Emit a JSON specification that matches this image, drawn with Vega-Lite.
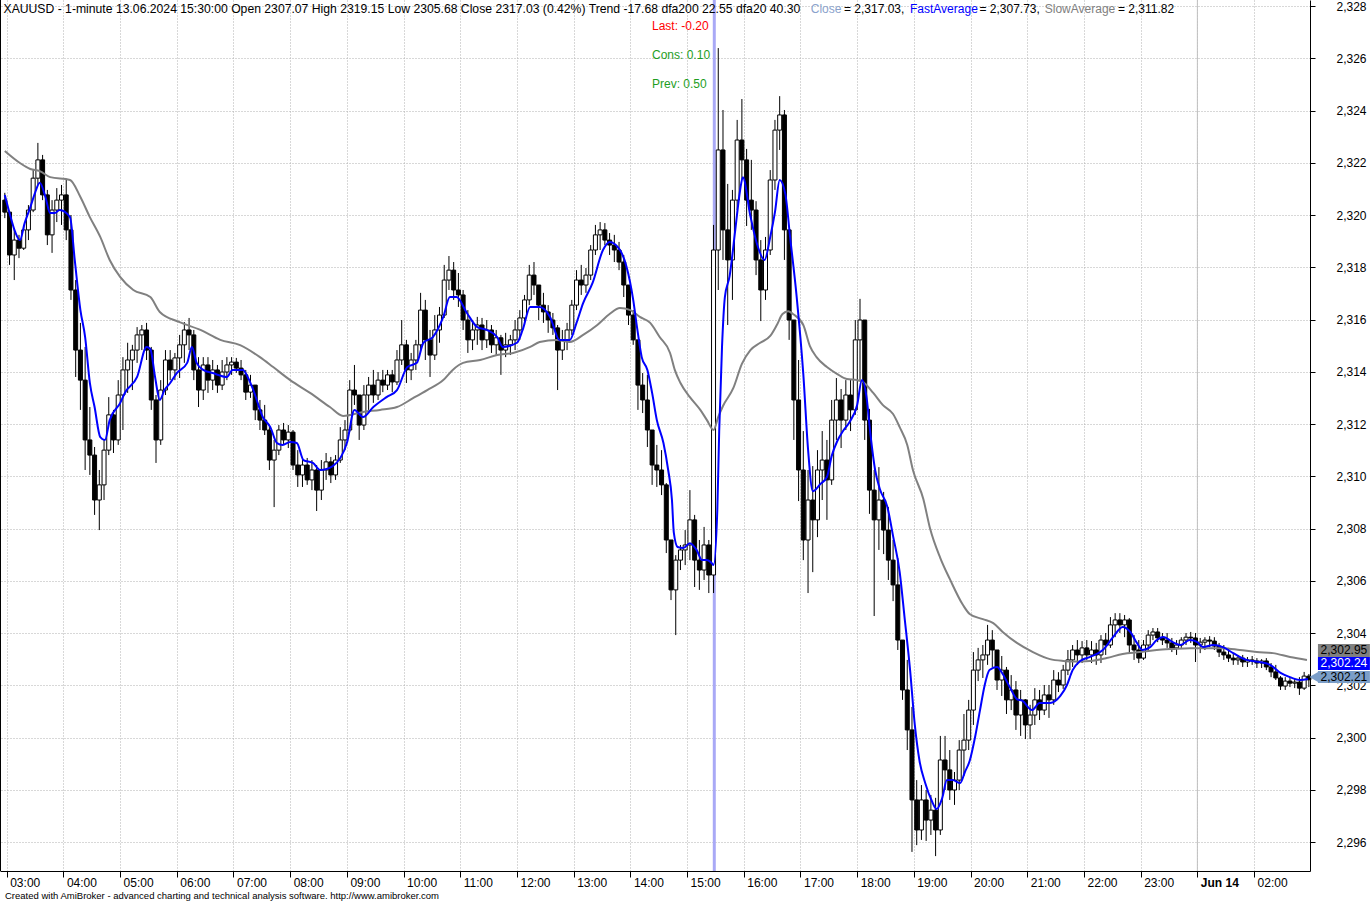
{
"$schema":"https://vega.github.io/schema/vega-lite/v6.json",
"width":1310,"height":871,
"autosize":{"type":"none"},
"padding":{"left":0,"top":0,"right":61,"bottom":32},
"background":"white",
"config":{"view":{"stroke":null},"font":"Liberation Sans",
"axisY":{"orient":"right","title":null,"grid":true,"gridColor":"#b0b0b0","gridDash":[1,2],"gridWidth":1,"domainColor":"#000000","domainWidth":1,"tickColor":"#000000","tickSize":5,"labelPadding":21,"labelFontSize":12,"labelFont":"Liberation Sans","labelColor":"#000000","labelAlign":"left","labelBaseline":"middle","labelBound":false,"labelOverlap":false}},
"datasets":{
"bars":[
{"m":-2,"o":2320.57,"h":2320.85,"l":2319.88,"c":2320.11},
{"m":3,"o":2320.11,"h":2320.00,"l":2318.09,"c":2318.47},
{"m":8,"o":2318.47,"h":2319.50,"l":2317.51,"c":2319.04},
{"m":13,"o":2319.04,"h":2319.24,"l":2318.35,"c":2318.73},
{"m":18,"o":2318.73,"h":2319.62,"l":2318.66,"c":2319.43},
{"m":23,"o":2319.43,"h":2320.38,"l":2319.04,"c":2320.19},
{"m":28,"o":2320.19,"h":2321.72,"l":2320.11,"c":2321.41},
{"m":33,"o":2321.41,"h":2322.76,"l":2321.15,"c":2322.11},
{"m":38,"o":2322.11,"h":2322.30,"l":2320.57,"c":2320.77},
{"m":43,"o":2320.77,"h":2320.96,"l":2318.85,"c":2319.24},
{"m":48,"o":2319.24,"h":2320.57,"l":2318.55,"c":2320.19},
{"m":53,"o":2320.19,"h":2321.03,"l":2319.73,"c":2320.57},
{"m":58,"o":2320.57,"h":2321.15,"l":2319.62,"c":2320.77},
{"m":63,"o":2320.77,"h":2321.34,"l":2319.04,"c":2319.43},
{"m":68,"o":2319.43,"h":2320.00,"l":2316.75,"c":2317.13},
{"m":73,"o":2317.13,"h":2317.51,"l":2313.80,"c":2314.83},
{"m":78,"o":2314.83,"h":2315.87,"l":2312.54,"c":2313.68},
{"m":83,"o":2313.68,"h":2314.95,"l":2310.24,"c":2311.39},
{"m":88,"o":2311.39,"h":2312.65,"l":2310.05,"c":2310.81},
{"m":93,"o":2310.81,"h":2311.12,"l":2308.52,"c":2309.09},
{"m":98,"o":2309.09,"h":2310.24,"l":2307.94,"c":2309.67},
{"m":103,"o":2309.67,"h":2311.39,"l":2309.09,"c":2311.00},
{"m":108,"o":2311.00,"h":2313.03,"l":2310.81,"c":2312.35},
{"m":113,"o":2312.35,"h":2312.54,"l":2310.89,"c":2311.39},
{"m":118,"o":2311.39,"h":2313.68,"l":2311.20,"c":2313.11},
{"m":123,"o":2313.11,"h":2314.56,"l":2311.77,"c":2314.07},
{"m":128,"o":2314.07,"h":2315.11,"l":2313.19,"c":2314.45},
{"m":133,"o":2314.45,"h":2315.03,"l":2313.30,"c":2314.83},
{"m":138,"o":2314.83,"h":2315.71,"l":2314.34,"c":2315.41},
{"m":143,"o":2315.41,"h":2315.79,"l":2314.83,"c":2315.60},
{"m":148,"o":2315.60,"h":2315.87,"l":2314.45,"c":2314.83},
{"m":153,"o":2314.83,"h":2314.95,"l":2312.54,"c":2312.92},
{"m":158,"o":2312.92,"h":2313.11,"l":2310.51,"c":2311.39},
{"m":163,"o":2311.39,"h":2313.68,"l":2311.20,"c":2313.30},
{"m":168,"o":2313.30,"h":2314.83,"l":2313.11,"c":2314.45},
{"m":173,"o":2314.45,"h":2314.83,"l":2313.68,"c":2314.07},
{"m":178,"o":2314.07,"h":2314.72,"l":2313.68,"c":2314.53},
{"m":183,"o":2314.53,"h":2315.41,"l":2313.76,"c":2315.03},
{"m":188,"o":2315.03,"h":2315.90,"l":2314.34,"c":2315.60},
{"m":193,"o":2315.60,"h":2316.06,"l":2314.83,"c":2315.41},
{"m":198,"o":2315.41,"h":2315.60,"l":2313.68,"c":2314.07},
{"m":203,"o":2314.07,"h":2314.56,"l":2312.65,"c":2313.30},
{"m":208,"o":2313.30,"h":2314.56,"l":2312.92,"c":2314.26},
{"m":213,"o":2314.26,"h":2314.56,"l":2313.19,"c":2313.68},
{"m":218,"o":2313.68,"h":2314.45,"l":2313.30,"c":2314.07},
{"m":223,"o":2314.07,"h":2314.26,"l":2313.19,"c":2313.49},
{"m":228,"o":2313.49,"h":2314.45,"l":2313.30,"c":2313.99},
{"m":233,"o":2313.99,"h":2314.56,"l":2313.68,"c":2314.26},
{"m":238,"o":2314.26,"h":2314.56,"l":2313.88,"c":2314.37},
{"m":243,"o":2314.37,"h":2314.53,"l":2313.96,"c":2314.14},
{"m":248,"o":2314.14,"h":2314.45,"l":2313.68,"c":2313.88},
{"m":253,"o":2313.88,"h":2314.07,"l":2312.92,"c":2313.22},
{"m":258,"o":2313.22,"h":2313.88,"l":2313.00,"c":2313.49},
{"m":263,"o":2313.49,"h":2313.49,"l":2312.15,"c":2312.54},
{"m":268,"o":2312.54,"h":2312.92,"l":2311.77,"c":2312.15},
{"m":273,"o":2312.15,"h":2312.73,"l":2311.58,"c":2311.77},
{"m":278,"o":2311.77,"h":2311.96,"l":2310.24,"c":2310.62},
{"m":283,"o":2310.62,"h":2311.39,"l":2308.82,"c":2311.00},
{"m":288,"o":2311.00,"h":2311.96,"l":2310.81,"c":2311.77},
{"m":293,"o":2311.77,"h":2312.04,"l":2311.20,"c":2311.39},
{"m":298,"o":2311.39,"h":2311.96,"l":2311.08,"c":2311.69},
{"m":303,"o":2311.69,"h":2311.77,"l":2310.24,"c":2310.43},
{"m":308,"o":2310.43,"h":2311.00,"l":2309.59,"c":2310.05},
{"m":313,"o":2310.05,"h":2310.74,"l":2309.59,"c":2310.43},
{"m":318,"o":2310.43,"h":2310.70,"l":2309.67,"c":2309.86},
{"m":323,"o":2309.86,"h":2310.62,"l":2309.47,"c":2310.24},
{"m":328,"o":2310.24,"h":2310.43,"l":2308.67,"c":2309.47},
{"m":333,"o":2309.47,"h":2310.62,"l":2309.09,"c":2310.24},
{"m":338,"o":2310.24,"h":2310.89,"l":2309.86,"c":2310.55},
{"m":343,"o":2310.55,"h":2310.74,"l":2309.74,"c":2310.05},
{"m":348,"o":2310.05,"h":2310.81,"l":2309.86,"c":2310.62},
{"m":353,"o":2310.62,"h":2311.88,"l":2310.51,"c":2311.39},
{"m":358,"o":2311.39,"h":2312.15,"l":2311.00,"c":2311.77},
{"m":363,"o":2311.77,"h":2313.68,"l":2311.69,"c":2313.30},
{"m":368,"o":2313.30,"h":2314.26,"l":2312.73,"c":2313.11},
{"m":373,"o":2313.11,"h":2313.11,"l":2311.39,"c":2311.96},
{"m":378,"o":2311.96,"h":2313.49,"l":2311.77,"c":2313.11},
{"m":383,"o":2313.11,"h":2313.80,"l":2312.54,"c":2313.49},
{"m":388,"o":2313.49,"h":2314.07,"l":2312.81,"c":2313.11},
{"m":393,"o":2313.11,"h":2313.99,"l":2312.92,"c":2313.68},
{"m":398,"o":2313.68,"h":2314.07,"l":2313.22,"c":2313.49},
{"m":403,"o":2313.49,"h":2314.07,"l":2313.30,"c":2313.88},
{"m":408,"o":2313.88,"h":2314.07,"l":2313.22,"c":2313.61},
{"m":413,"o":2313.61,"h":2314.83,"l":2313.49,"c":2314.45},
{"m":418,"o":2314.45,"h":2315.98,"l":2314.26,"c":2315.03},
{"m":423,"o":2315.03,"h":2315.22,"l":2313.57,"c":2314.07},
{"m":428,"o":2314.07,"h":2314.72,"l":2313.68,"c":2314.45},
{"m":433,"o":2314.45,"h":2315.22,"l":2314.07,"c":2315.03},
{"m":438,"o":2315.03,"h":2317.02,"l":2314.83,"c":2316.36},
{"m":443,"o":2316.36,"h":2316.75,"l":2314.45,"c":2315.22},
{"m":448,"o":2315.22,"h":2315.60,"l":2313.80,"c":2314.64},
{"m":453,"o":2314.64,"h":2316.17,"l":2314.45,"c":2315.60},
{"m":458,"o":2315.60,"h":2316.48,"l":2315.11,"c":2316.17},
{"m":463,"o":2316.17,"h":2318.09,"l":2316.06,"c":2317.51},
{"m":468,"o":2317.51,"h":2318.43,"l":2317.13,"c":2317.89},
{"m":473,"o":2317.89,"h":2318.20,"l":2316.75,"c":2317.13},
{"m":478,"o":2317.13,"h":2317.78,"l":2316.48,"c":2316.94},
{"m":483,"o":2316.94,"h":2317.13,"l":2315.60,"c":2315.98},
{"m":488,"o":2315.98,"h":2316.36,"l":2314.72,"c":2315.22},
{"m":493,"o":2315.22,"h":2315.98,"l":2314.83,"c":2315.60},
{"m":498,"o":2315.60,"h":2316.10,"l":2315.03,"c":2315.79},
{"m":503,"o":2315.79,"h":2316.06,"l":2314.83,"c":2315.22},
{"m":508,"o":2315.22,"h":2315.98,"l":2314.91,"c":2315.60},
{"m":513,"o":2315.60,"h":2315.79,"l":2314.72,"c":2315.03},
{"m":518,"o":2315.03,"h":2315.60,"l":2314.64,"c":2315.30},
{"m":523,"o":2315.30,"h":2315.41,"l":2313.88,"c":2314.83},
{"m":528,"o":2314.83,"h":2315.49,"l":2314.56,"c":2315.03},
{"m":533,"o":2315.03,"h":2315.41,"l":2314.64,"c":2315.22},
{"m":538,"o":2315.22,"h":2315.98,"l":2314.83,"c":2315.60},
{"m":543,"o":2315.60,"h":2316.36,"l":2315.22,"c":2316.06},
{"m":548,"o":2316.06,"h":2316.94,"l":2315.79,"c":2316.75},
{"m":553,"o":2316.75,"h":2318.09,"l":2316.55,"c":2317.70},
{"m":558,"o":2317.70,"h":2318.20,"l":2316.94,"c":2317.32},
{"m":563,"o":2317.32,"h":2317.32,"l":2315.98,"c":2316.55},
{"m":568,"o":2316.55,"h":2317.02,"l":2315.87,"c":2316.29},
{"m":573,"o":2316.29,"h":2316.55,"l":2315.49,"c":2315.98},
{"m":578,"o":2315.98,"h":2316.25,"l":2315.41,"c":2315.68},
{"m":583,"o":2315.68,"h":2315.79,"l":2313.30,"c":2314.83},
{"m":588,"o":2314.83,"h":2315.60,"l":2314.45,"c":2315.22},
{"m":593,"o":2315.22,"h":2315.87,"l":2314.83,"c":2315.60},
{"m":598,"o":2315.60,"h":2316.75,"l":2315.41,"c":2316.55},
{"m":603,"o":2316.55,"h":2317.89,"l":2316.36,"c":2317.51},
{"m":608,"o":2317.51,"h":2318.09,"l":2316.94,"c":2317.32},
{"m":613,"o":2317.32,"h":2317.97,"l":2317.02,"c":2317.70},
{"m":618,"o":2317.70,"h":2318.85,"l":2317.51,"c":2318.66},
{"m":623,"o":2318.66,"h":2319.62,"l":2318.47,"c":2319.24},
{"m":628,"o":2319.24,"h":2319.73,"l":2318.66,"c":2319.43},
{"m":633,"o":2319.43,"h":2319.69,"l":2318.85,"c":2319.04},
{"m":638,"o":2319.04,"h":2319.31,"l":2318.47,"c":2318.85},
{"m":643,"o":2318.85,"h":2319.24,"l":2318.20,"c":2318.66},
{"m":648,"o":2318.66,"h":2318.97,"l":2317.89,"c":2318.20},
{"m":653,"o":2318.20,"h":2318.47,"l":2316.86,"c":2317.32},
{"m":658,"o":2317.32,"h":2317.32,"l":2315.79,"c":2316.17},
{"m":663,"o":2316.17,"h":2316.36,"l":2315.03,"c":2315.22},
{"m":668,"o":2315.22,"h":2315.22,"l":2312.54,"c":2313.49},
{"m":673,"o":2313.49,"h":2313.95,"l":2312.42,"c":2312.92},
{"m":678,"o":2312.92,"h":2313.88,"l":2311.12,"c":2311.77},
{"m":683,"o":2311.77,"h":2311.77,"l":2309.67,"c":2310.43},
{"m":688,"o":2310.43,"h":2311.20,"l":2309.59,"c":2310.24},
{"m":693,"o":2310.24,"h":2311.00,"l":2309.28,"c":2309.67},
{"m":698,"o":2309.67,"h":2309.74,"l":2307.06,"c":2307.56},
{"m":703,"o":2307.56,"h":2307.56,"l":2305.26,"c":2305.65},
{"m":708,"o":2305.65,"h":2306.98,"l":2303.92,"c":2306.79},
{"m":713,"o":2306.79,"h":2307.37,"l":2306.41,"c":2307.18},
{"m":718,"o":2307.18,"h":2307.94,"l":2306.60,"c":2307.37},
{"m":723,"o":2307.37,"h":2309.47,"l":2306.79,"c":2308.33},
{"m":728,"o":2308.33,"h":2308.52,"l":2305.76,"c":2306.79},
{"m":733,"o":2306.79,"h":2307.56,"l":2305.65,"c":2306.41},
{"m":738,"o":2306.41,"h":2308.06,"l":2306.03,"c":2307.37},
{"m":743,"o":2307.37,"h":2307.56,"l":2305.53,"c":2306.22},
{"m":748,"o":2306.22,"h":2319.62,"l":2305.53,"c":2318.66},
{"m":753,"o":2318.66,"h":2326.39,"l":2317.13,"c":2322.49},
{"m":758,"o":2322.49,"h":2324.02,"l":2318.28,"c":2319.43},
{"m":763,"o":2319.43,"h":2321.19,"l":2315.79,"c":2318.28},
{"m":768,"o":2318.28,"h":2320.96,"l":2316.75,"c":2320.57},
{"m":773,"o":2320.57,"h":2323.64,"l":2320.19,"c":2322.87},
{"m":778,"o":2322.87,"h":2324.44,"l":2321.34,"c":2322.11},
{"m":783,"o":2322.11,"h":2322.53,"l":2319.58,"c":2320.57},
{"m":788,"o":2320.57,"h":2322.11,"l":2319.43,"c":2320.19},
{"m":793,"o":2320.19,"h":2320.53,"l":2317.70,"c":2318.28},
{"m":798,"o":2318.28,"h":2319.04,"l":2315.94,"c":2317.13},
{"m":803,"o":2317.13,"h":2319.16,"l":2316.75,"c":2318.66},
{"m":808,"o":2318.66,"h":2321.72,"l":2318.47,"c":2321.34},
{"m":813,"o":2321.34,"h":2323.64,"l":2320.96,"c":2323.25},
{"m":818,"o":2323.25,"h":2324.55,"l":2322.49,"c":2323.83},
{"m":823,"o":2323.83,"h":2324.02,"l":2318.28,"c":2319.43},
{"m":828,"o":2319.43,"h":2319.43,"l":2315.22,"c":2315.98},
{"m":833,"o":2315.98,"h":2315.98,"l":2311.39,"c":2312.92},
{"m":838,"o":2312.92,"h":2314.45,"l":2309.05,"c":2310.24},
{"m":843,"o":2310.24,"h":2311.73,"l":2306.79,"c":2307.56},
{"m":848,"o":2307.56,"h":2310.24,"l":2305.53,"c":2309.09},
{"m":853,"o":2309.09,"h":2310.39,"l":2306.33,"c":2308.33},
{"m":858,"o":2308.33,"h":2311.00,"l":2307.67,"c":2310.24},
{"m":863,"o":2310.24,"h":2311.73,"l":2309.09,"c":2310.62},
{"m":868,"o":2310.62,"h":2311.39,"l":2308.33,"c":2309.86},
{"m":873,"o":2309.86,"h":2312.92,"l":2309.67,"c":2312.15},
{"m":878,"o":2312.15,"h":2313.76,"l":2311.39,"c":2312.92},
{"m":883,"o":2312.92,"h":2313.34,"l":2311.08,"c":2312.15},
{"m":888,"o":2312.15,"h":2313.68,"l":2311.77,"c":2313.11},
{"m":893,"o":2313.11,"h":2313.72,"l":2311.73,"c":2312.54},
{"m":898,"o":2312.54,"h":2315.98,"l":2312.35,"c":2315.22},
{"m":903,"o":2315.22,"h":2316.79,"l":2313.68,"c":2315.98},
{"m":908,"o":2315.98,"h":2315.98,"l":2311.39,"c":2312.15},
{"m":913,"o":2312.15,"h":2312.58,"l":2308.56,"c":2309.47},
{"m":918,"o":2309.47,"h":2310.24,"l":2304.65,"c":2308.33},
{"m":923,"o":2308.33,"h":2310.35,"l":2307.18,"c":2309.09},
{"m":928,"o":2309.09,"h":2309.40,"l":2307.02,"c":2307.94},
{"m":933,"o":2307.94,"h":2308.82,"l":2306.03,"c":2306.79},
{"m":938,"o":2306.79,"h":2307.56,"l":2305.22,"c":2305.84},
{"m":943,"o":2305.84,"h":2306.87,"l":2303.35,"c":2303.73},
{"m":948,"o":2303.73,"h":2303.73,"l":2301.44,"c":2301.82},
{"m":953,"o":2301.82,"h":2302.97,"l":2299.52,"c":2300.29},
{"m":958,"o":2300.29,"h":2301.17,"l":2295.62,"c":2297.61},
{"m":963,"o":2297.61,"h":2298.37,"l":2295.88,"c":2296.46},
{"m":968,"o":2296.46,"h":2298.18,"l":2296.08,"c":2297.61},
{"m":973,"o":2297.61,"h":2297.99,"l":2296.04,"c":2296.84},
{"m":978,"o":2296.84,"h":2297.80,"l":2296.27,"c":2297.22},
{"m":983,"o":2297.22,"h":2297.69,"l":2295.46,"c":2296.46},
{"m":988,"o":2296.46,"h":2300.06,"l":2296.27,"c":2299.14},
{"m":993,"o":2299.14,"h":2300.06,"l":2297.99,"c":2298.76},
{"m":998,"o":2298.76,"h":2299.52,"l":2297.61,"c":2297.99},
{"m":1003,"o":2297.99,"h":2298.68,"l":2297.42,"c":2298.37},
{"m":1008,"o":2298.37,"h":2299.90,"l":2297.99,"c":2299.52},
{"m":1013,"o":2299.52,"h":2300.90,"l":2298.53,"c":2299.90},
{"m":1018,"o":2299.90,"h":2301.44,"l":2299.52,"c":2301.05},
{"m":1023,"o":2301.05,"h":2303.27,"l":2300.48,"c":2302.58},
{"m":1028,"o":2302.58,"h":2303.43,"l":2302.16,"c":2302.97},
{"m":1033,"o":2302.97,"h":2303.54,"l":2302.28,"c":2303.16},
{"m":1038,"o":2303.16,"h":2304.31,"l":2302.78,"c":2303.73},
{"m":1043,"o":2303.73,"h":2304.11,"l":2302.70,"c":2303.35},
{"m":1048,"o":2303.35,"h":2303.35,"l":2301.82,"c":2302.20},
{"m":1053,"o":2302.20,"h":2303.12,"l":2301.59,"c":2302.58},
{"m":1058,"o":2302.58,"h":2302.70,"l":2300.90,"c":2301.44},
{"m":1063,"o":2301.44,"h":2302.39,"l":2301.05,"c":2301.82},
{"m":1068,"o":2301.82,"h":2302.16,"l":2300.29,"c":2300.86},
{"m":1073,"o":2300.86,"h":2301.82,"l":2300.06,"c":2301.44},
{"m":1078,"o":2301.44,"h":2301.47,"l":2299.94,"c":2300.48},
{"m":1083,"o":2300.48,"h":2301.25,"l":2299.94,"c":2300.86},
{"m":1088,"o":2300.86,"h":2301.89,"l":2300.48,"c":2301.44},
{"m":1093,"o":2301.44,"h":2301.82,"l":2300.67,"c":2301.05},
{"m":1098,"o":2301.05,"h":2302.01,"l":2300.86,"c":2301.63},
{"m":1103,"o":2301.63,"h":2302.01,"l":2300.75,"c":2301.44},
{"m":1108,"o":2301.44,"h":2302.58,"l":2301.25,"c":2302.20},
{"m":1113,"o":2302.20,"h":2302.50,"l":2301.74,"c":2302.01},
{"m":1118,"o":2302.01,"h":2302.78,"l":2301.86,"c":2302.58},
{"m":1123,"o":2302.58,"h":2303.35,"l":2302.39,"c":2302.97},
{"m":1128,"o":2302.97,"h":2303.54,"l":2302.70,"c":2303.35},
{"m":1133,"o":2303.35,"h":2303.73,"l":2302.78,"c":2303.16},
{"m":1138,"o":2303.16,"h":2303.69,"l":2302.85,"c":2303.43},
{"m":1143,"o":2303.43,"h":2303.73,"l":2302.97,"c":2303.16},
{"m":1148,"o":2303.16,"h":2303.69,"l":2302.85,"c":2303.35},
{"m":1153,"o":2303.35,"h":2303.62,"l":2302.78,"c":2303.16},
{"m":1158,"o":2303.16,"h":2303.92,"l":2302.85,"c":2303.73},
{"m":1163,"o":2303.73,"h":2304.00,"l":2303.16,"c":2303.54},
{"m":1168,"o":2303.54,"h":2304.61,"l":2303.43,"c":2304.31},
{"m":1173,"o":2304.31,"h":2304.76,"l":2303.84,"c":2304.50},
{"m":1178,"o":2304.50,"h":2304.76,"l":2304.00,"c":2304.31},
{"m":1183,"o":2304.31,"h":2304.69,"l":2303.84,"c":2304.50},
{"m":1188,"o":2304.50,"h":2304.57,"l":2303.23,"c":2303.54},
{"m":1193,"o":2303.54,"h":2303.92,"l":2302.97,"c":2303.35},
{"m":1198,"o":2303.35,"h":2303.73,"l":2302.85,"c":2303.04},
{"m":1203,"o":2303.04,"h":2303.73,"l":2302.97,"c":2303.54},
{"m":1208,"o":2303.54,"h":2304.11,"l":2303.35,"c":2303.92},
{"m":1213,"o":2303.92,"h":2304.19,"l":2303.73,"c":2304.04},
{"m":1218,"o":2304.04,"h":2304.19,"l":2303.65,"c":2303.81},
{"m":1223,"o":2303.81,"h":2304.00,"l":2303.54,"c":2303.73},
{"m":1228,"o":2303.73,"h":2304.00,"l":2303.43,"c":2303.62},
{"m":1233,"o":2303.62,"h":2303.81,"l":2303.27,"c":2303.43},
{"m":1238,"o":2303.43,"h":2303.73,"l":2303.16,"c":2303.54},
{"m":1243,"o":2303.54,"h":2303.84,"l":2303.43,"c":2303.73},
{"m":1248,"o":2303.73,"h":2304.00,"l":2303.54,"c":2303.84},
{"m":1253,"o":2303.84,"h":2304.04,"l":2303.62,"c":2303.81},
{"m":1258,"o":2303.81,"h":2304.00,"l":2302.89,"c":2303.54},
{"m":1263,"o":2303.54,"h":2303.81,"l":2303.23,"c":2303.65},
{"m":1268,"o":2303.65,"h":2303.84,"l":2303.35,"c":2303.73},
{"m":1273,"o":2303.73,"h":2303.88,"l":2303.46,"c":2303.69},
{"m":1278,"o":2303.69,"h":2303.84,"l":2303.35,"c":2303.50},
{"m":1283,"o":2303.50,"h":2303.62,"l":2303.08,"c":2303.27},
{"m":1288,"o":2303.27,"h":2303.54,"l":2302.97,"c":2303.16},
{"m":1293,"o":2303.16,"h":2303.43,"l":2302.89,"c":2303.04},
{"m":1298,"o":2303.04,"h":2303.23,"l":2302.78,"c":2302.97},
{"m":1303,"o":2302.97,"h":2303.16,"l":2302.78,"c":2303.04},
{"m":1308,"o":2303.04,"h":2303.16,"l":2302.70,"c":2302.89},
{"m":1313,"o":2302.89,"h":2303.08,"l":2302.70,"c":2302.97},
{"m":1318,"o":2302.97,"h":2303.12,"l":2302.78,"c":2302.93},
{"m":1323,"o":2302.93,"h":2303.04,"l":2302.66,"c":2302.85},
{"m":1328,"o":2302.85,"h":2303.00,"l":2302.66,"c":2302.93},
{"m":1333,"o":2302.93,"h":2303.04,"l":2302.58,"c":2302.70},
{"m":1338,"o":2302.70,"h":2302.85,"l":2302.31,"c":2302.51},
{"m":1343,"o":2302.51,"h":2302.78,"l":2302.20,"c":2302.28},
{"m":1348,"o":2302.28,"h":2302.35,"l":2301.82,"c":2301.97},
{"m":1353,"o":2301.97,"h":2302.31,"l":2301.82,"c":2302.16},
{"m":1358,"o":2302.16,"h":2302.31,"l":2301.93,"c":2302.08},
{"m":1363,"o":2302.08,"h":2302.28,"l":2301.89,"c":2302.12},
{"m":1368,"o":2302.12,"h":2302.31,"l":2301.63,"c":2301.89},
{"m":1373,"o":2301.89,"h":2302.51,"l":2301.82,"c":2302.35},
{"m":1378,"o":2302.35,"h":2302.43,"l":2301.93,"c":2302.21}
],
"fast":[
{"m":-2,"v":2320.77},{"m":3,"v":2320.08},{"m":9,"v":2319.35},{"m":14,"v":2319.04},{"m":19,"v":2319.69},{"m":25,"v":2320.30},{"m":30,"v":2320.85},{"m":35,"v":2321.23},{"m":41,"v":2320.69},{"m":46,"v":2320.08},{"m":51,"v":2320.08},{"m":56,"v":2320.19},{"m":67,"v":2319.92},{"m":72,"v":2318.28},{"m":78,"v":2316.36},{"m":83,"v":2315.33},{"m":88,"v":2313.57},{"m":93,"v":2312.65},{"m":99,"v":2311.50},{"m":104,"v":2311.39},{"m":109,"v":2312.15},{"m":120,"v":2312.80},{"m":125,"v":2313.19},{"m":138,"v":2313.80},{"m":148,"v":2314.95},{"m":152,"v":2314.87},{"m":157,"v":2313.80},{"m":162,"v":2312.92},{"m":167,"v":2313.30},{"m":173,"v":2313.57},{"m":180,"v":2313.95},{"m":191,"v":2314.34},{"m":196,"v":2314.95},{"m":201,"v":2314.34},{"m":208,"v":2314.07},{"m":218,"v":2313.95},{"m":233,"v":2313.80},{"m":239,"v":2314.07},{"m":250,"v":2314.07},{"m":255,"v":2313.80},{"m":261,"v":2313.30},{"m":271,"v":2312.27},{"m":279,"v":2311.88},{"m":286,"v":2311.27},{"m":292,"v":2311.20},{"m":300,"v":2311.31},{"m":307,"v":2311.27},{"m":314,"v":2310.62},{"m":324,"v":2310.51},{"m":332,"v":2310.24},{"m":345,"v":2310.39},{"m":360,"v":2311.27},{"m":368,"v":2312.54},{"m":377,"v":2312.27},{"m":388,"v":2312.65},{"m":402,"v":2313.03},{"m":413,"v":2313.30},{"m":424,"v":2314.18},{"m":434,"v":2314.34},{"m":441,"v":2315.11},{"m":451,"v":2315.33},{"m":462,"v":2316.10},{"m":469,"v":2316.86},{"m":476,"v":2316.86},{"m":487,"v":2316.25},{"m":498,"v":2315.71},{"m":508,"v":2315.60},{"m":519,"v":2315.33},{"m":525,"v":2314.95},{"m":540,"v":2315.11},{"m":546,"v":2315.60},{"m":554,"v":2316.48},{"m":564,"v":2316.48},{"m":575,"v":2316.10},{"m":585,"v":2315.22},{"m":596,"v":2315.22},{"m":603,"v":2315.87},{"m":610,"v":2316.63},{"m":620,"v":2317.40},{"m":631,"v":2318.66},{"m":638,"v":2318.97},{"m":649,"v":2318.66},{"m":656,"v":2318.01},{"m":663,"v":2316.75},{"m":667,"v":2315.71},{"m":672,"v":2314.56},{"m":678,"v":2314.07},{"m":683,"v":2313.19},{"m":688,"v":2312.15},{"m":695,"v":2311.27},{"m":700,"v":2310.24},{"m":704,"v":2309.09},{"m":706,"v":2307.83},{"m":710,"v":2307.29},{"m":716,"v":2307.25},{"m":723,"v":2307.44},{"m":730,"v":2307.18},{"m":736,"v":2306.79},{"m":741,"v":2306.79},{"m":746,"v":2306.68},{"m":748,"v":2306.60},{"m":752,"v":2308.71},{"m":754,"v":2311.73},{"m":757,"v":2314.98},{"m":760,"v":2316.86},{"m":765,"v":2317.66},{"m":771,"v":2319.43},{"m":776,"v":2320.92},{"m":779,"v":2321.45},{"m":787,"v":2319.96},{"m":794,"v":2318.89},{"m":802,"v":2318.28},{"m":808,"v":2319.16},{"m":813,"v":2320.11},{"m":818,"v":2321.34},{"m":824,"v":2320.80},{"m":829,"v":2319.16},{"m":836,"v":2316.86},{"m":843,"v":2313.91},{"m":848,"v":2311.04},{"m":853,"v":2309.43},{"m":861,"v":2309.70},{"m":868,"v":2309.97},{"m":873,"v":2310.77},{"m":879,"v":2311.35},{"m":885,"v":2311.73},{"m":892,"v":2312.08},{"m":900,"v":2312.73},{"m":905,"v":2313.68},{"m":910,"v":2313.00},{"m":914,"v":2311.62},{"m":919,"v":2310.24},{"m":924,"v":2309.51},{"m":932,"v":2308.82},{"m":938,"v":2307.71},{"m":945,"v":2306.33},{"m":950,"v":2304.65},{"m":956,"v":2302.58},{"m":961,"v":2300.48},{"m":966,"v":2299.10},{"m":972,"v":2298.26},{"m":979,"v":2297.57},{"m":984,"v":2297.26},{"m":990,"v":2297.68},{"m":995,"v":2298.37},{"m":1001,"v":2298.37},{"m":1009,"v":2298.26},{"m":1014,"v":2298.68},{"m":1019,"v":2299.10},{"m":1025,"v":2300.06},{"m":1030,"v":2301.05},{"m":1035,"v":2302.01},{"m":1040,"v":2302.58},{"m":1048,"v":2302.70},{"m":1054,"v":2302.43},{"m":1062,"v":2301.89},{"m":1069,"v":2301.47},{"m":1075,"v":2301.40},{"m":1085,"v":2301.05},{"m":1093,"v":2301.32},{"m":1104,"v":2301.32},{"m":1115,"v":2301.59},{"m":1122,"v":2302.01},{"m":1128,"v":2302.58},{"m":1136,"v":2302.93},{"m":1146,"v":2303.08},{"m":1160,"v":2303.35},{"m":1171,"v":2303.85},{"m":1181,"v":2304.23},{"m":1189,"v":2304.04},{"m":1196,"v":2303.62},{"m":1202,"v":2303.35},{"m":1210,"v":2303.46},{"m":1217,"v":2303.73},{"m":1224,"v":2303.85},{"m":1234,"v":2303.65},{"m":1242,"v":2303.54},{"m":1252,"v":2303.73},{"m":1260,"v":2303.65},{"m":1266,"v":2303.46},{"m":1277,"v":2303.54},{"m":1287,"v":2303.46},{"m":1298,"v":2303.23},{"m":1312,"v":2302.97},{"m":1326,"v":2302.89},{"m":1337,"v":2302.78},{"m":1348,"v":2302.47},{"m":1358,"v":2302.31},{"m":1369,"v":2302.20},{"m":1377,"v":2302.24}
],
"slow":[
{"m":-2,"v":2322.45},{"m":14,"v":2321.99},{"m":25,"v":2321.76},{"m":35,"v":2321.68},{"m":46,"v":2321.45},{"m":67,"v":2321.34},{"m":78,"v":2320.69},{"m":88,"v":2319.92},{"m":99,"v":2319.16},{"m":109,"v":2318.28},{"m":120,"v":2317.63},{"m":134,"v":2317.13},{"m":152,"v":2316.86},{"m":162,"v":2316.29},{"m":183,"v":2315.90},{"m":205,"v":2315.60},{"m":226,"v":2315.22},{"m":247,"v":2315.02},{"m":268,"v":2314.56},{"m":282,"v":2314.18},{"m":300,"v":2313.68},{"m":321,"v":2313.19},{"m":342,"v":2312.65},{"m":356,"v":2312.31},{"m":377,"v":2312.46},{"m":395,"v":2312.54},{"m":413,"v":2312.65},{"m":430,"v":2312.99},{"m":445,"v":2313.30},{"m":462,"v":2313.68},{"m":472,"v":2314.07},{"m":483,"v":2314.34},{"m":501,"v":2314.45},{"m":519,"v":2314.64},{"m":536,"v":2314.72},{"m":554,"v":2314.95},{"m":564,"v":2315.14},{"m":582,"v":2315.22},{"m":596,"v":2315.14},{"m":610,"v":2315.41},{"m":625,"v":2315.79},{"m":638,"v":2316.21},{"m":649,"v":2316.44},{"m":660,"v":2316.36},{"m":670,"v":2316.10},{"m":681,"v":2315.87},{"m":691,"v":2315.33},{"m":702,"v":2314.72},{"m":707,"v":2314.07},{"m":713,"v":2313.57},{"m":723,"v":2313.03},{"m":734,"v":2312.54},{"m":741,"v":2312.15},{"m":748,"v":2311.77},{"m":753,"v":2312.27},{"m":758,"v":2312.69},{"m":769,"v":2313.38},{"m":778,"v":2314.30},{"m":787,"v":2314.83},{"m":797,"v":2315.10},{"m":808,"v":2315.37},{"m":815,"v":2315.79},{"m":821,"v":2316.21},{"m":827,"v":2316.32},{"m":832,"v":2316.21},{"m":843,"v":2315.79},{"m":850,"v":2314.98},{"m":857,"v":2314.56},{"m":868,"v":2314.18},{"m":879,"v":2313.91},{"m":889,"v":2313.72},{"m":900,"v":2313.68},{"m":906,"v":2313.61},{"m":917,"v":2313.19},{"m":927,"v":2312.73},{"m":938,"v":2312.38},{"m":945,"v":2311.88},{"m":953,"v":2311.20},{"m":959,"v":2310.24},{"m":970,"v":2309.13},{"m":977,"v":2308.02},{"m":988,"v":2306.87},{"m":998,"v":2306.07},{"m":1012,"v":2305.07},{"m":1019,"v":2304.73},{"m":1033,"v":2304.53},{"m":1044,"v":2304.38},{"m":1054,"v":2304.04},{"m":1069,"v":2303.62},{"m":1086,"v":2303.27},{"m":1104,"v":2303.00},{"m":1118,"v":2302.93},{"m":1130,"v":2302.91},{"m":1146,"v":2302.93},{"m":1164,"v":2303.04},{"m":1181,"v":2303.20},{"m":1199,"v":2303.27},{"m":1217,"v":2303.35},{"m":1234,"v":2303.39},{"m":1252,"v":2303.42},{"m":1270,"v":2303.42},{"m":1287,"v":2303.42},{"m":1305,"v":2303.35},{"m":1323,"v":2303.27},{"m":1340,"v":2303.23},{"m":1358,"v":2303.08},{"m":1376,"v":2302.97}
]
},
"encoding":{
"x":{"field":"m","type":"quantitative","scale":{"domain":[-7.09,1379.2],"nice":false,"zero":false,"padding":0},
"axis":{"orient":"bottom","values":[0,60,120,180,240,300,360,420,480,540,600,660,720,780,840,900,960,1020,1080,1140,1200,1260,1320],
"labelExpr":"datum.value == 1260 ? 'Jun 14' : (datum.value == 1320 ? '02:00' : (datum.value < 420 ? '0' : '') + format(3 + datum.value / 60, 'd') + ':00')",
"title":null,"grid":true,"gridColor":"#b0b0b0","gridDash":[1,2],"gridWidth":1,"domainColor":"#000000","domainWidth":1,"tickColor":"#000000","tickSize":6,"tickWidth":1,
"labelAlign":"left","labelBaseline":"middle","labelPadding":5,"labelOffset":3,"labelFontSize":12,"labelFont":"Liberation Sans","labelColor":"#000000","labelOverlap":false,"labelFlush":false,"labelBound":false,
"labelFontWeight":{"condition":{"test":"datum.value == 1260","value":"bold"},"value":"normal"}}}
},
"layer":[
{"data":{"values":[{"m":1260}]},"mark":{"type":"rule","color":"#c0c0c0","strokeWidth":1},"encoding":{}},
{"data":{"values":[{"m":748.8}]},"mark":{"type":"rule","color":"#a9a9f6","strokeWidth":3},"encoding":{}},
{"data":{"values":[{"m":-7.09}]},"mark":{"type":"rule","color":"#000000","strokeWidth":2},"encoding":{}},
{"data":{"name":"bars"},"mark":{"type":"rule","color":"#000000","strokeWidth":1},
"encoding":{"y":{"field":"l","type":"quantitative","scale":{"domain":[2294.89,2328.23],"nice":false,"zero":false,"padding":0},
"axis":{"orient":"right","values":[2296,2298,2300,2302,2304,2306,2308,2310,2312,2314,2316,2318,2320,2322,2324,2326,2328],"format":",d","title":null}},
"y2":{"field":"h"}}},
{"data":{"name":"bars"},"mark":{"type":"bar","width":4,"stroke":"#000000","strokeWidth":1},
"encoding":{"y":{"field":"o","type":"quantitative","scale":{"domain":[2294.89,2328.23],"nice":false,"zero":false,"padding":0},"axis":{"orient":"right","title":null}},"y2":{"field":"c"},
"fill":{"condition":{"test":"datum.c >= datum.o","value":"#ffffff"},"value":"#000000"}}},
{"data":{"name":"slow"},"mark":{"type":"line","color":"#808080","strokeWidth":2,"interpolate":"monotone"},
"encoding":{"y":{"field":"v","type":"quantitative","scale":{"domain":[2294.89,2328.23],"nice":false,"zero":false,"padding":0},"axis":{"orient":"right","title":null}}}},
{"data":{"name":"fast"},"mark":{"type":"line","color":"#0000ff","strokeWidth":2,"interpolate":"monotone"},
"encoding":{"y":{"field":"v","type":"quantitative","scale":{"domain":[2294.89,2328.23],"nice":false,"zero":false,"padding":0},"axis":{"orient":"right","title":null}}}},
{"data":{"values":[
{"m":-3.39,"p":2327.89,"t":"XAUUSD - 1-minute 13.06.2024 15:30:00 Open 2307.07 High 2319.15 Low 2305.68 Close 2317.03 (0.42%) Trend -17.68 dfa200 22.55 dfa20 40.30"}]},
"mark":{"type":"text","align":"left","baseline":"middle","fontSize":12.2,"font":"Liberation Sans","color":"#000000"},
"encoding":{"y":{"field":"p","type":"quantitative","scale":{"domain":[2294.89,2328.23],"nice":false,"zero":false,"padding":0},"axis":{"orient":"right","title":null}},"text":{"field":"t"}}},
{"data":{"values":[
{"m":886,"p":2327.89,"t":"= 2,317.03,"},
{"m":1029.4,"p":2327.89,"t":"= 2,307.73,"},
{"m":1176,"p":2327.89,"t":"= 2,311.82"}]},
"mark":{"type":"text","align":"left","baseline":"middle","fontSize":12,"font":"Liberation Sans","color":"#000000"},
"encoding":{"y":{"field":"p","type":"quantitative","scale":{"domain":[2294.89,2328.23],"nice":false,"zero":false,"padding":0},"axis":{"orient":"right","title":null}},"text":{"field":"t"}}},
{"data":{"values":[{"m":850.9,"p":2327.89,"t":"Close"}]},
"mark":{"type":"text","align":"left","baseline":"middle","fontSize":12,"font":"Liberation Sans","color":"#8aa2cc"},
"encoding":{"y":{"field":"p","type":"quantitative","scale":{"domain":[2294.89,2328.23],"nice":false,"zero":false,"padding":0},"axis":{"orient":"right","title":null}},"text":{"field":"t"}}},
{"data":{"values":[{"m":955.9,"p":2327.89,"t":"FastAverage"}]},
"mark":{"type":"text","align":"left","baseline":"middle","fontSize":12,"font":"Liberation Sans","color":"#0000ff"},
"encoding":{"y":{"field":"p","type":"quantitative","scale":{"domain":[2294.89,2328.23],"nice":false,"zero":false,"padding":0},"axis":{"orient":"right","title":null}},"text":{"field":"t"}}},
{"data":{"values":[{"m":1098.5,"p":2327.89,"t":"SlowAverage"}]},
"mark":{"type":"text","align":"left","baseline":"middle","fontSize":12,"font":"Liberation Sans","color":"#808080"},
"encoding":{"y":{"field":"p","type":"quantitative","scale":{"domain":[2294.89,2328.23],"nice":false,"zero":false,"padding":0},"axis":{"orient":"right","title":null}},"text":{"field":"t"}}},
{"data":{"values":[{"m":682.9,"p":2327.23,"t":"Last: -0.20"}]},
"mark":{"type":"text","align":"left","baseline":"middle","fontSize":12,"font":"Liberation Sans","color":"#ff0000"},
"encoding":{"y":{"field":"p","type":"quantitative","scale":{"domain":[2294.89,2328.23],"nice":false,"zero":false,"padding":0},"axis":{"orient":"right","title":null}},"text":{"field":"t"}}},
{"data":{"values":[{"m":682.9,"p":2326.12,"t":"Cons: 0.10"},{"m":682.9,"p":2325.01,"t":"Prev: 0.50"}]},
"mark":{"type":"text","align":"left","baseline":"middle","fontSize":12,"font":"Liberation Sans","color":"#1e9e1e"},
"encoding":{"y":{"field":"p","type":"quantitative","scale":{"domain":[2294.89,2328.23],"nice":false,"zero":false,"padding":0},"axis":{"orient":"right","title":null}},"text":{"field":"t"}}},
{"data":{"values":[{"m":-1.8,"p":2293.93,"t":"Created with AmiBroker - advanced charting and technical analysis software. http://www.amibroker.com"}]},
"mark":{"type":"text","align":"left","baseline":"middle","fontSize":9.5,"font":"Liberation Sans","color":"#000000"},
"encoding":{"y":{"field":"p","type":"quantitative","scale":{"domain":[2294.89,2328.23],"nice":false,"zero":false,"padding":0},"axis":{"orient":"right","title":null}},"text":{"field":"t"}}},
{"data":{"values":[{"m":1387.6,"m2":1442.6,"v":2302.95}]},
"mark":{"type":"rule","color":"#808080","strokeWidth":13,"strokeCap":"butt","yOffset":-10},
"encoding":{"x2":{"field":"m2"},"y":{"field":"v","type":"quantitative","scale":{"domain":[2294.89,2328.23],"nice":false,"zero":false,"padding":0},"axis":{"orient":"right","title":null}}}},
{"data":{"values":[{"m":1387.6,"m2":1442.6,"v":2302.24}]},
"mark":{"type":"rule","color":"#0000ff","strokeWidth":13,"strokeCap":"butt","yOffset":-15.5},
"encoding":{"x2":{"field":"m2"},"y":{"field":"v","type":"quantitative","scale":{"domain":[2294.89,2328.23],"nice":false,"zero":false,"padding":0},"axis":{"orient":"right","title":null}}}},
{"data":{"values":[{"m":1387.6,"m2":1442.6,"v":2302.21}]},
"mark":{"type":"rule","color":"#7b9ec8","strokeWidth":12,"strokeCap":"butt","yOffset":-2.8},
"encoding":{"x2":{"field":"m2"},"y":{"field":"v","type":"quantitative","scale":{"domain":[2294.89,2328.23],"nice":false,"zero":false,"padding":0},"axis":{"orient":"right","title":null}}}},
{"data":{"values":[{"m":1383.4,"v":2302.21}]},
"mark":{"type":"point","shape":"triangle-left","size":110,"filled":true,"color":"#7b9ec8","opacity":1,"yOffset":-2.8},
"encoding":{"y":{"field":"v","type":"quantitative","scale":{"domain":[2294.89,2328.23],"nice":false,"zero":false,"padding":0},"axis":{"orient":"right","title":null}}}},
{"data":{"values":[{"m":1415.1,"v":2302.95}]},
"mark":{"type":"text","align":"center","baseline":"middle","fontSize":12,"font":"Liberation Sans","color":"#000000","yOffset":-10},
"encoding":{"y":{"field":"v","type":"quantitative","scale":{"domain":[2294.89,2328.23],"nice":false,"zero":false,"padding":0},"axis":{"orient":"right","title":null}},"text":{"field":"v","format":",.2f"}}},
{"data":{"values":[{"m":1415.1,"v":2302.24}]},
"mark":{"type":"text","align":"center","baseline":"middle","fontSize":12,"font":"Liberation Sans","color":"#ffffff","yOffset":-15.5},
"encoding":{"y":{"field":"v","type":"quantitative","scale":{"domain":[2294.89,2328.23],"nice":false,"zero":false,"padding":0},"axis":{"orient":"right","title":null}},"text":{"field":"v","format":",.2f"}}},
{"data":{"values":[{"m":1415.1,"v":2302.21}]},
"mark":{"type":"text","align":"center","baseline":"middle","fontSize":12,"font":"Liberation Sans","color":"#000000","yOffset":-2.8},
"encoding":{"y":{"field":"v","type":"quantitative","scale":{"domain":[2294.89,2328.23],"nice":false,"zero":false,"padding":0},"axis":{"orient":"right","title":null}},"text":{"field":"v","format":",.2f"}}}
]
}
